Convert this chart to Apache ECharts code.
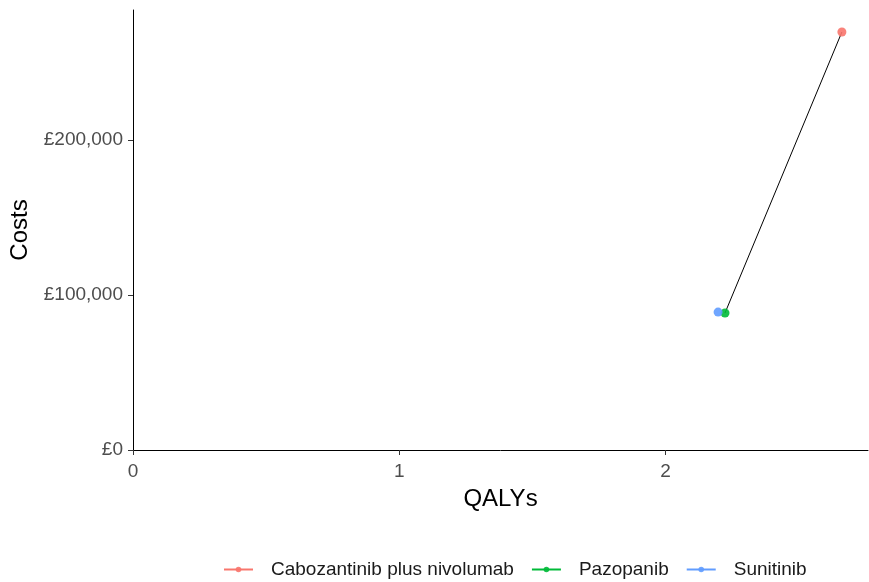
<!DOCTYPE html>
<html><head><meta charset="utf-8">
<script src="https://cdn.jsdelivr.net/npm/echarts@6/dist/echarts.min.js"></script>
<style>html,body{margin:0;padding:0;background:#fff}#c{width:869px;height:582px}</style>
</head><body><div id="c"></div>
<script>
const treatments = ['Cabozantinib plus nivolumab', 'Pazopanib', 'Sunitinib'];
const qalys = [2.662, 2.223, 2.197];
const costs = [269700, 88400, 89000];
const colors = ['#F8766D', '#00BA38', '#619CFF'];
const frontier = ['Pazopanib', 'Cabozantinib plus nivolumab'];
const xTicks = [0, 1, 2];
const yTicks = [0, 100000, 200000];

const font = 'Liberation Sans, Arial, sans-serif';
const chart = echarts.init(document.getElementById('c'));
const series = [{
  type: 'line', name: 'frontier', silent: true, symbol: 'none',
  lineStyle: {color: '#000', width: 1},
  data: frontier.map(n => { const i = treatments.indexOf(n); return [qalys[i], costs[i]]; }),
  z: 2
}];
treatments.forEach((t, i) => series.push({
  type: 'line', name: t, symbol: 'circle', symbolSize: 9,
  itemStyle: {color: colors[i], opacity: 0.9}, lineStyle: {color: colors[i], width: 1},
  data: [[qalys[i], costs[i]]], z: 3
}));
chart.setOption({
  animation: false,
  grid: {left: 133, right: 1, top: 10, bottom: 132, containLabel: false, outerBoundsMode: 'none'},
  legend: {
    data: treatments, top: 555, left: 218, itemWidth: 29, itemHeight: 7, itemGap: 17,
    textStyle: {fontFamily: font, fontSize: 19, color: '#1a1a1a', padding: [0, 0, 0, 13]}
  },
  xAxis: {
    type: 'value', min: 0, max: 2.76,
    name: 'QALYs', nameLocation: 'middle', nameGap: 37,
    nameTextStyle: {fontFamily: font, fontSize: 24, color: '#000'},
    splitLine: {show: false},
    axisLine: {lineStyle: {color: '#000', width: 1}},
    axisTick: {length: 5, lineStyle: {color: '#333'}, customValues: xTicks},
    axisLabel: {fontFamily: font, fontSize: 19, color: '#4D4D4D', margin: 12, customValues: xTicks}
  },
  yAxis: {
    type: 'value', min: 0, max: 283900,
    name: 'Costs', nameLocation: 'middle', nameGap: 98,
    nameTextStyle: {fontFamily: font, fontSize: 24, color: '#000'},
    splitLine: {show: false},
    axisLine: {show: true, lineStyle: {color: '#000', width: 1}},
    axisTick: {show: true, length: 5, lineStyle: {color: '#333'}, customValues: yTicks},
    axisLabel: {fontFamily: font, fontSize: 19, color: '#4D4D4D', margin: 10, customValues: yTicks,
      formatter: v => '£' + v.toLocaleString('en-GB')}
  },
  series: series
});
</script></body></html>
